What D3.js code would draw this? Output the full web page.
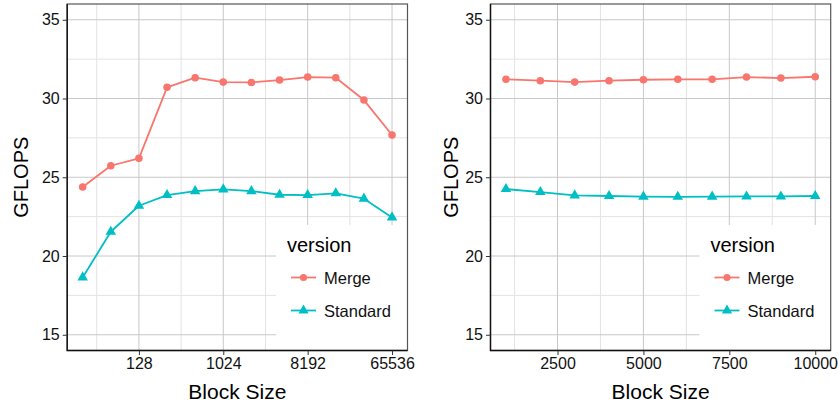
<!DOCTYPE html>
<html>
<head>
<meta charset="utf-8">
<script src="https://cdn.jsdelivr.net/npm/d3@7"></script>
<style>
  body { margin: 0; background: #fff; }
  svg text { font-family: "Liberation Sans", Arial, Helvetica, sans-serif; }
</style>
</head>
<body>
<div id="chart"></div>
<script>
let width = 839,
	height = 405;

// left panel: block sizes (powers of two)
let blockLog = [32, 64, 128, 256, 512, 1024, 2048, 4096, 8192, 16384, 32768, 65536];
let mergeLog = [24.38, 25.73, 26.2, 30.71, 31.32, 31.04, 31.02, 31.17, 31.36, 31.32, 29.9, 27.68];
let standardLog = [18.64, 21.54, 23.19, 23.87, 24.12, 24.23, 24.12, 23.89, 23.87, 23.98, 23.64, 22.45];
let ticksLog = [128, 1024, 8192, 65536];

// right panel: block sizes (linear)
let blockLin = [1000, 2000, 3000, 4000, 5000, 6000, 7000, 8000, 9000, 10000];
let mergeLin = [31.22, 31.13, 31.04, 31.13, 31.19, 31.22, 31.22, 31.36, 31.3, 31.38];
let standardLin = [24.25, 24.06, 23.85, 23.81, 23.77, 23.76, 23.77, 23.78, 23.78, 23.81];
let ticksLin = [2500, 5000, 7500, 10000];

let yTicks = [15, 20, 25, 30, 35];
let seriesNames = ["Merge", "Standard"];
let colors = d3.scaleOrdinal().domain(seriesNames).range(["#F8766D", "#00BFC4"]);

let svg = d3.select('#chart').append('svg')
	.attr('width', width)
	.attr('height', height);

let plotTop = 4, plotBottom = 350.5;

let y = d3.scaleLinear()
	.domain([14, 36])
	.range([plotBottom, plotTop]);

function drawPanel(opts) {
	let x = opts.x;
	let x0 = x.range()[0], x1 = x.range()[1];
	let g = svg.append('g');

	// minor grid
	let yMinor = yTicks.map(function (t) { return t + 2.5; }).filter(function (t) { return t < 36; });
	g.selectAll('.ymin').data(yMinor).enter().append('line')
		.attr('x1', x0).attr('x2', x1)
		.attr('y1', function (d) { return y(d); }).attr('y2', function (d) { return y(d); })
		.attr('stroke', '#e3e3e3').attr('stroke-width', 1);
	g.selectAll('.xmin').data(opts.minor).enter().append('line')
		.attr('y1', plotTop).attr('y2', plotBottom)
		.attr('x1', function (d) { return x(d); }).attr('x2', function (d) { return x(d); })
		.attr('stroke', '#e3e3e3').attr('stroke-width', 1);

	// major grid
	g.selectAll('.ymaj').data(yTicks).enter().append('line')
		.attr('x1', x0).attr('x2', x1)
		.attr('y1', function (d) { return y(d); }).attr('y2', function (d) { return y(d); })
		.attr('stroke', '#c8c8c8').attr('stroke-width', 1);
	g.selectAll('.xmaj').data(opts.ticks).enter().append('line')
		.attr('y1', plotTop).attr('y2', plotBottom)
		.attr('x1', function (d) { return x(d); }).attr('x2', function (d) { return x(d); })
		.attr('stroke', '#c8c8c8').attr('stroke-width', 1);

	// lines and points
	let series = [
		{ name: "Merge", values: opts.merge },
		{ name: "Standard", values: opts.standard }
	];
	let line = d3.line()
		.x(function (d) { return x(d[0]); })
		.y(function (d) { return y(d[1]); });

	series.forEach(function (s) {
		let pts = opts.blocks.map(function (b, i) { return [b, s.values[i]]; });
		g.append('path')
			.datum(pts)
			.attr('d', line)
			.attr('fill', 'none')
			.attr('stroke', colors(s.name))
			.attr('stroke-width', 1.8)
			.attr('stroke-linejoin', 'round');
		let sym = d3.symbol()
			.type(s.name === "Merge" ? d3.symbolCircle : d3.symbolTriangle)
			.size(s.name === "Merge" ? 45 : 48);
		g.selectAll('.pt-' + s.name).data(pts).enter().append('path')
			.attr('d', sym)
			.attr('transform', function (d) { return 'translate(' + x(d[0]) + ',' + y(d[1]) + ')'; })
			.attr('fill', colors(s.name));
	});

	// legend
	let lg = g.append('g');
	lg.append('rect')
		.attr('x', opts.legendX).attr('y', 225)
		.attr('width', x1 - opts.legendX).attr('height', plotBottom - 225)
		.attr('fill', '#fff');
	lg.append('text')
		.attr('x', opts.legendX + 11).attr('y', 252)
		.attr('font-size', 20).attr('fill', '#000')
		.text('version');
	seriesNames.forEach(function (name, i) {
		let ky = 277.5 + i * 33;
		let kx = opts.legendX + 15;
		lg.append('line')
			.attr('x1', kx).attr('x2', kx + 25)
			.attr('y1', ky).attr('y2', ky)
			.attr('stroke', colors(name)).attr('stroke-width', 1.8);
		lg.append('path')
			.attr('d', d3.symbol().type(i === 0 ? d3.symbolCircle : d3.symbolTriangle).size(i === 0 ? 40 : 45))
			.attr('transform', 'translate(' + (kx + 12.5) + ',' + ky + ')')
			.attr('fill', colors(name));
		lg.append('text')
			.attr('x', kx + 33).attr('y', ky + 6)
			.attr('font-size', 16.5).attr('fill', '#111')
			.text(name);
	});

	// border
	g.append('rect')
		.attr('x', x0).attr('y', plotTop)
		.attr('width', x1 - x0).attr('height', plotBottom - plotTop)
		.attr('fill', 'none').attr('stroke', '#555').attr('stroke-width', 1.2);
	g.append('path')
		.attr('d', 'M' + x0 + ',' + plotTop + 'V' + plotBottom + 'H' + x1)
		.attr('fill', 'none').attr('stroke', '#111').attr('stroke-width', 1.4);

	// axes
	let xAxis = d3.axisBottom(x)
		.tickValues(opts.ticks)
		.tickSize(4.5).tickPadding(3)
		.tickFormat(d3.format('d'));
	let gx = g.append('g')
		.attr('transform', 'translate(0,' + plotBottom + ')')
		.call(xAxis);
	gx.select('.domain').remove();
	gx.selectAll('line').attr('stroke', '#333');
	gx.selectAll('text').attr('font-size', 16).attr('fill', '#111')
		.style('font-family', '"Liberation Sans", Arial, sans-serif');

	let yAxis = d3.axisLeft(y)
		.tickValues(yTicks)
		.tickSize(4.5).tickPadding(3);
	let gy = g.append('g')
		.attr('transform', 'translate(' + x0 + ',0)')
		.call(yAxis);
	gy.select('.domain').remove();
	gy.selectAll('line').attr('stroke', '#333');
	gy.selectAll('text').attr('font-size', 16).attr('fill', '#111')
		.style('font-family', '"Liberation Sans", Arial, sans-serif');

	// titles
	g.append('text')
		.attr('x', (x0 + x1) / 2).attr('y', 399)
		.attr('text-anchor', 'middle')
		.attr('font-size', 21).attr('fill', '#000')
		.text('Block Size');
	g.append('text')
		.attr('transform', 'translate(' + opts.yTitleX + ',' + ((plotTop + plotBottom) / 2) + ') rotate(-90)')
		.attr('text-anchor', 'middle')
		.attr('font-size', 20).attr('fill', '#000')
		.text('GFLOPS');
}

// left panel, log2 x
let xLog = d3.scaleLog().base(2)
	.domain([Math.pow(2, 4.45), Math.pow(2, 16.55)])
	.range([67.2, 407.5]);
let minorLog = [Math.pow(2, 5.5)].concat(ticksLog.slice(0, -1).map(function (t) { return t * Math.pow(2, 1.5); }));

drawPanel({
	x: xLog, blocks: blockLog, merge: mergeLog, standard: standardLog,
	ticks: ticksLog, minor: minorLog, legendX: 276, yTitleX: 28
});

// right panel, linear x
let xLin = d3.scaleLinear()
	.domain([550, 10450])
	.range([490.5, 830.7]);
let minorLin = [1250].concat(ticksLin.slice(0, -1).map(function (t) { return t + 1250; }));

drawPanel({
	x: xLin, blocks: blockLin, merge: mergeLin, standard: standardLin,
	ticks: ticksLin, minor: minorLin, legendX: 699.5, yTitleX: 458
});
</script>
</body>
</html>
